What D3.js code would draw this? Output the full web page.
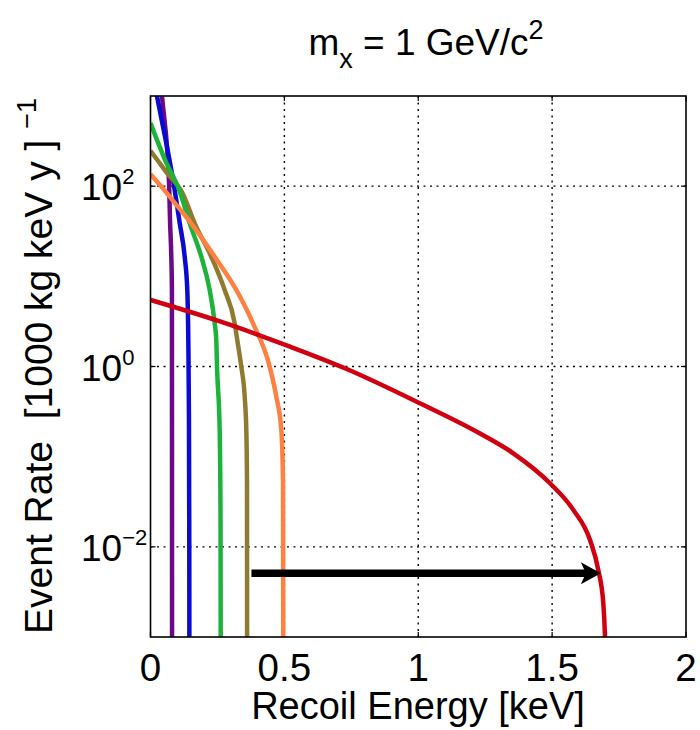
<!DOCTYPE html>
<html>
<head>
<meta charset="utf-8">
<script src="https://cdn.jsdelivr.net/npm/d3@7"></script>
<style>
  html, body { margin: 0; padding: 0; background: #fff; }
  svg text { font-family: "Liberation Sans", Arial, Helvetica, sans-serif; fill: #000; }
</style>
</head>
<body>
<svg id="chart" width="700" height="730"></svg>
<script>
// ---------- data ----------
const xTicks = [0, 0.5, 1, 1.5, 2];
const xTickLabels = ["0", "0.5", "1", "1.5", "2"];
const yTicks = [1e2, 1e0, 1e-2];
const yTickExponents = ["2", "0", "\u22122"];

const purpleE = [0.02, 0.043, 0.0695, 0.0732, 0.0777, 0.0800, 0.0803, 0.0805];
const purpleR = [7000, 1000, 103, 39, 16.5, 7.1, 0.1, 0.0008];

const blueE = [0, 0.0243, 0.0904, 0.109, 0.1277, 0.1374, 0.1412, 0.1435, 0.1449, 0.1452];
const blueR = [2400, 1000, 90.6, 39.1, 16.5, 7.06, 1.97, 0.3, 0.01, 0.0008];

const greenE = [0, 0.053, 0.110, 0.1464, 0.1897, 0.221, 0.2398, 0.2457, 0.2484, 0.2584, 0.2616, 0.2622];
const greenR = [500, 200, 86, 38.7, 16.5, 7.06, 3.01, 1.97, 1.0, 0.198, 0.02, 0.0008];

const brownE = [0, 0.059, 0.121, 0.165, 0.227, 0.277, 0.3145, 0.324, 0.339, 0.3518, 0.3578, 0.3604, 0.3608];
const brownR = [247, 143, 82, 38.7, 16.5, 7.06, 3.01, 1.97, 1.0, 0.463, 0.198, 0.055, 0.0008];

const orangeE = [0, 0.058, 0.1027, 0.152, 0.2398, 0.3204, 0.3828, 0.445, 0.4698, 0.4885, 0.4949, 0.4960];
const orangeR = [136, 86, 59, 38.7, 16.5, 7.06, 3.01, 1.0, 0.463, 0.198, 0.055, 0.0008];

const redE = [0, 0.2596, 0.521, 0.7328, 0.9942, 1.2306, 1.355, 1.4921, 1.5791, 1.6415, 1.6724, 1.6911, 1.6975, 1.6985];
const redR = [5.47, 3.16, 1.66, 0.938, 0.407, 0.1807, 0.109, 0.0507, 0.0257, 0.0119, 0.00553, 0.00237, 0.00101, 0.0008];

const seriesColors = ["#6a0a86", "#0a0ad0", "#8f7a2e", "#1db33a", "#ff8040", "#d00010"];
const seriesNames = ["purple", "blue", "brown", "green", "orange", "red"];

const arrowE = [0.377, 1.682];
const arrowR = 0.00508;

// ---------- layout ----------
const svg = d3.select("#chart");
const L = 150.5, R = 686, T = 96, B = 637;
const x = d3.scaleLinear().domain([0, 2]).range([L, R]);
const y = d3.scaleLog().domain([1e-3, 1e3]).range([B, T]);

svg.append("rect").attr("width", 700).attr("height", 730).attr("fill", "#fff");

svg.append("defs").append("clipPath").attr("id", "plotclip")
  .append("rect").attr("x", L).attr("y", T).attr("width", R - L).attr("height", B - T);

// grid
const grid = svg.append("g");
xTicks.filter(d => d > 0 && d < 2).forEach(d => {
  grid.append("line").attr("x1", x(d)).attr("x2", x(d)).attr("y1", T).attr("y2", B)
    .attr("stroke", "#000").attr("stroke-width", 1.4).attr("stroke-dasharray", "2,4.5");
});
yTicks.forEach(d => {
  grid.append("line").attr("x1", L).attr("x2", R).attr("y1", y(d)).attr("y2", y(d))
    .attr("stroke", "#000").attr("stroke-width", 1.4).attr("stroke-dasharray", "2,4.5");
});

// tick marks (inside)
const ticks = svg.append("g").attr("stroke", "#000").attr("stroke-width", 1.2);
xTicks.forEach(d => {
  ticks.append("line").attr("x1", x(d)).attr("x2", x(d)).attr("y1", B).attr("y2", B - 5);
  ticks.append("line").attr("x1", x(d)).attr("x2", x(d)).attr("y1", T).attr("y2", T + 5);
});
yTicks.forEach(d => {
  ticks.append("line").attr("x1", L).attr("x2", L + 5).attr("y1", y(d)).attr("y2", y(d));
  ticks.append("line").attr("x1", R).attr("x2", R - 5).attr("y1", y(d)).attr("y2", y(d));
});

// curves
const allE = [purpleE, blueE, brownE, greenE, orangeE, redE];
const allR = [purpleR, blueR, brownR, greenR, orangeR, redR];
const line = d3.line().x(d => x(d[0])).y(d => y(d[1])).curve(d3.curveMonotoneX);
const curves = svg.append("g").attr("clip-path", "url(#plotclip)");
allE.forEach((E, i) => {
  const pts = E.map((e, j) => [e, allR[i][j]]);
  curves.append("path").attr("d", line(pts)).attr("fill", "none")
    .attr("stroke", seriesColors[i]).attr("stroke-width", 4.5)
    .attr("stroke-linejoin", "round").attr("class", seriesNames[i]);
});

// arrow
const ay = y(arrowR), ax0 = x(arrowE[0]), ax1 = x(arrowE[1]);
svg.append("line").attr("x1", ax0).attr("x2", ax1 - 12).attr("y1", ay).attr("y2", ay)
  .attr("stroke", "#000").attr("stroke-width", 7.5);
svg.append("path")
  .attr("d", `M${ax1},${ay} L${ax1 - 20},${ay - 11} L${ax1 - 15},${ay} L${ax1 - 20},${ay + 11} Z`)
  .attr("fill", "#000");

// frame
svg.append("rect").attr("x", L).attr("y", T).attr("width", R - L).attr("height", B - T)
  .attr("fill", "none").attr("stroke", "#000").attr("stroke-width", 1.6);

// x tick labels
svg.append("g").selectAll("text").data(xTicks).join("text")
  .attr("x", d => x(d)).attr("y", 681).attr("text-anchor", "middle")
  .attr("font-size", 38.5).text((d, i) => xTickLabels[i]);

// y tick labels
yTicks.forEach((d, i) => {
  const t = svg.append("text").attr("x", 81).attr("y", y(d) + 14).attr("font-size", 37);
  t.append("tspan").text("10");
  t.append("tspan").attr("dy", -16).attr("font-size", 22).text(yTickExponents[i]);
});

// title
const title = svg.append("text").attr("x", 426).attr("y", 55).attr("text-anchor", "middle").attr("font-size", 37);
title.append("tspan").text("m");
title.append("tspan").attr("dy", 13).attr("font-size", 27).text("x");
title.append("tspan").attr("dy", -13).text(" = 1 GeV/c");
title.append("tspan").attr("dy", -16).attr("font-size", 27).text("2");

// x label
svg.append("text").attr("x", 418).attr("y", 719).attr("text-anchor", "middle")
  .attr("font-size", 38).text("Recoil Energy [keV]");

// y label
const yl = svg.append("text").attr("transform", "translate(52,366) rotate(-90)")
  .attr("text-anchor", "middle").attr("font-size", 39);
yl.append("tspan").text("Event Rate\u00a0\u00a0[1000 kg keV y ]\u00a0");
yl.append("tspan").attr("dy", -16).attr("font-size", 27).text("\u22121");
</script>
</body>
</html>
